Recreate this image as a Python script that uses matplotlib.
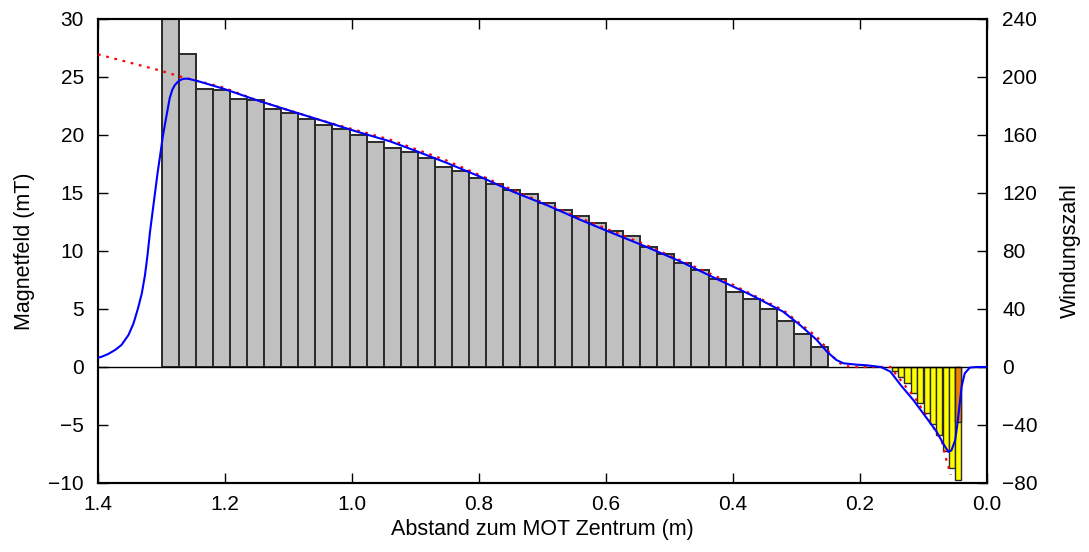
"""
Zeeman-Slower: Magnetfeld und Windungszahl entlang der Achse
"""

import matplotlib
matplotlib.use("Agg")
import matplotlib.pyplot as plt

plt.rcParams["font.family"] = ["Liberation Sans", "DejaVu Sans"]
plt.rcParams["font.size"] = 15

# ── Daten ─────────────────────────────────────────────────
# Spulen (grau): Mittelpunkt (m) und Windungszahl
coil_pos = [1.2865, 1.2596, 1.2327, 1.2058, 1.1788, 1.1519, 1.1250, 1.0981,
            1.0712, 1.0442, 1.0173, 0.9904, 0.9635, 0.9365, 0.9096, 0.8827,
            0.8558, 0.8288, 0.8019, 0.7750, 0.7481, 0.7212, 0.6942, 0.6673,
            0.6404, 0.6135, 0.5865, 0.5596, 0.5327, 0.5058, 0.4788, 0.4519,
            0.4250, 0.3981, 0.3712, 0.3442, 0.3173, 0.2904, 0.2635]
coil_turns = [255, 216, 192, 191, 185, 184, 178, 175, 171, 167, 164, 160,
              155, 151, 148, 144, 138, 135, 130, 126, 122, 119, 113, 108,
              104, 99, 94, 90, 83, 78, 72, 67, 61, 52, 47, 40, 32, 23, 14]

# Spulen (gelb, umgekehrte Polarität)
neg_pos = [0.145, 0.135, 0.125, 0.115, 0.105, 0.095, 0.085, 0.075, 0.065,
           0.055, 0.045]
neg_turns = [-3, -7, -11, -18, -25, -32, -39, -47, -58, -70, -78]

# Kompensationsspule (orange)
comp_pos = [0.045]
comp_turns = [-38]

# berechnetes Feld (blau)
field_x = [1.400, 1.394, 1.384, 1.373, 1.363, 1.352, 1.344, 1.337, 1.331,
           1.326, 1.322, 1.318, 1.314, 1.310, 1.306, 1.302, 1.298, 1.294,
           1.290, 1.287, 1.283, 1.279, 1.274, 1.270, 1.265, 1.258, 1.240,
           1.203, 1.150, 1.098, 1.045, 0.993, 0.940, 0.903, 0.851, 0.798,
           0.746, 0.693, 0.641, 0.588, 0.536, 0.483, 0.426, 0.373, 0.321,
           0.294, 0.268, 0.252, 0.237, 0.226, 0.205, 0.190, 0.167, 0.152,
           0.136, 0.116, 0.095, 0.079, 0.069, 0.061, 0.056, 0.050, 0.047,
           0.044, 0.040, 0.035, 0.027, 0.016, 0.000]
field_b = [0.8, 0.89, 1.12, 1.47, 1.9, 2.76, 3.77, 5.06, 6.35, 7.93, 9.66,
           11.7, 13.4, 15.1, 16.8, 18.3, 19.85, 21.1, 22.3, 23.2, 23.9, 24.3,
           24.6, 24.75, 24.85, 24.85, 24.6, 24.0, 23.0, 22.1, 21.2, 20.3,
           19.45, 18.7, 17.6, 16.4, 15.1, 13.95, 12.7, 11.5, 10.35, 9.1, 7.6,
           6.25, 4.77, 3.6, 2.33, 1.32, 0.6, 0.32, 0.2, 0.15, 0.0, -0.4,
           -1.55, -2.85, -4.4, -5.6, -6.6, -7.3, -7.2, -6.3, -5.1, -3.7,
           -1.7, -0.55, -0.05, 0.0, 0.0]

# ideales Feldprofil (rot gepunktet)
ideal_x = [1.400, 1.305, 1.268, 1.203, 1.150, 1.045, 0.940, 0.851, 0.746,
           0.641, 0.536, 0.426, 0.321, 0.268, 0.252, 0.247, 0.233, 0.225,
           0.210, 0.150, 0.1445, 0.134, 0.113, 0.091, 0.071, 0.064, 0.057]
ideal_b = [26.95, 25.6, 25.0, 24.1, 23.0, 21.2, 19.6, 17.8, 15.25, 12.85,
           10.5, 7.8, 4.9, 2.6, 1.6, 1.1, 0.4, 0.1, 0.0, 0.0, -0.55, -1.27,
           -2.7, -4.6, -6.4, -8.0, -9.3]

# ── Abbildung ─────────────────────────────────────────────
fig = plt.figure(figsize=(10.89, 5.52), dpi=100)
ax_n = fig.add_axes([0.090, 0.125, 0.8163, 0.8406])
ax_b = ax_n.twinx()

bar_w = 0.02692
ax_n.bar(coil_pos, coil_turns, width=bar_w, color="#c0c0c0",
         edgecolor="#2a2a2a", linewidth=1.4, zorder=2)
ax_n.bar(neg_pos, neg_turns, width=0.0098, color="#ffff00",
         edgecolor="#2a2a2a", linewidth=1.0, zorder=2)
ax_n.bar(comp_pos, comp_turns, width=0.0098, color="#f08000",
         edgecolor="#2a2a2a", linewidth=1.0, zorder=3)

ax_b.axhline(0, color="black", lw=1.0, zorder=1)
ax_b.plot(ideal_x, ideal_b, color="#ff0000", lw=1.6,
          linestyle=(0, (1.2, 2.6)), zorder=3)
ax_b.plot(field_x, field_b, color="#0000ff", lw=1.5, zorder=4)

ax_n.set_xlim(1.4, 0.0)
ax_n.set_ylim(-80, 240)
ax_b.set_ylim(-10, 30)

ax_n.set_xticks([1.4, 1.2, 1.0, 0.8, 0.6, 0.4, 0.2, 0.0])
ax_n.set_xticklabels(["1.4", "1.2", "1.0", "0.8", "0.6", "0.4", "0.2", "0.0"])
ax_n.set_yticks(range(-80, 241, 40))
ax_n.set_yticklabels([str(v).replace("-", "\u2212") for v in range(-80, 241, 40)])
ax_b.set_yticks(range(-10, 31, 5))
ax_b.set_yticklabels([str(v).replace("-", "\u2212") for v in range(-10, 31, 5)])

ax_n.yaxis.tick_right()
ax_n.yaxis.set_label_position("right")
ax_b.yaxis.tick_left()
ax_b.yaxis.set_label_position("left")

ax_n.tick_params(axis="x", direction="in", length=7, width=1, top=True,
                 pad=9, labelsize=15)
ax_n.tick_params(axis="y", direction="in", length=7, width=1, pad=11,
                 labelsize=15)
ax_b.tick_params(axis="y", direction="in", length=7, width=1, pad=10,
                 labelsize=15)

for a in (ax_n, ax_b):
    for s in a.spines.values():
        s.set_linewidth(1.5)

ax_n.set_xlabel("Abstand zum MOT Zentrum (m)", fontsize=15.5, labelpad=3)
ax_b.set_ylabel("Magnetfeld (mT)", fontsize=15.5, labelpad=10)
ax_n.set_ylabel("Windungszahl", fontsize=15.5, labelpad=16, rotation=90)

fig.savefig("out.png", dpi=100)
print("out.png gespeichert")
